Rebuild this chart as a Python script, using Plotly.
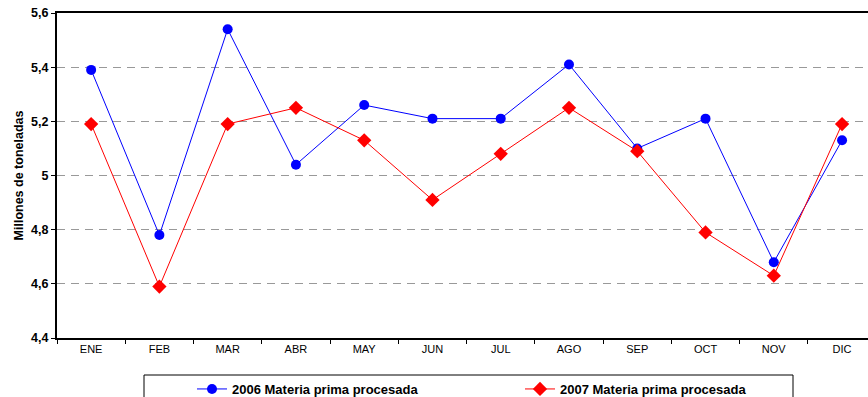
import plotly.graph_objects as go

months = ["ENE", "FEB", "MAR", "ABR", "MAY", "JUN", "JUL", "AGO", "SEP", "OCT", "NOV", "DIC"]
serie_2006 = [5.39, 4.78, 5.54, 5.04, 5.26, 5.21, 5.21, 5.41, 5.10, 5.21, 4.68, 5.13]
serie_2007 = [5.19, 4.59, 5.19, 5.25, 5.13, 4.91, 5.08, 5.25, 5.09, 4.79, 4.63, 5.19]
name_2006 = "2006 Materia prima procesada"
name_2007 = "2007 Materia prima procesada"
y_ticks = [4.4, 4.6, 4.8, 5.0, 5.2, 5.4, 5.6]
y_ticktext = ["4,4", "4,6", "4,8", "5", "5,2", "5,4", "5,6"]

FONT = "Liberation Sans, Arial, sans-serif"
W, H = 868, 397

fig = go.Figure()
fig.add_trace(go.Scatter(
    x=months, y=serie_2006, name=name_2006, mode="lines+markers",
    line=dict(color="#0000FF", width=1),
    marker=dict(symbol="circle", size=10, color="#0000FF"),
))
fig.add_trace(go.Scatter(
    x=months, y=serie_2007, name=name_2007, mode="lines+markers",
    line=dict(color="#FF0000", width=1),
    marker=dict(symbol="diamond", size=11, color="#FF0000"),
))

fig.update_layout(
    width=W, height=H,
    margin=dict(l=57, r=0, t=13, b=59, autoexpand=False),
    paper_bgcolor="white", plot_bgcolor="white",
    font=dict(family=FONT, color="black"),
    showlegend=True,
    legend=dict(
        orientation="h", xref="container", yref="container",
        x=192 / W, y=1 - 374 / H, xanchor="left", yanchor="top",
        font=dict(family=FONT, size=13, color="black", weight="bold"),
        entrywidth=283, entrywidthmode="pixels",
        bgcolor="rgba(0,0,0,0)", borderwidth=0, tracegroupgap=0,
    ),
    xaxis=dict(
        type="category", range=[-0.5, 11.38], automargin=False,
        showline=True, linecolor="black", linewidth=2, mirror=True,
        ticks="outside", ticklen=4, tickcolor="black", tickson="boundaries",
        showgrid=False, zeroline=False,
        tickfont=dict(family=FONT, size=11, color="black"),
    ),
    yaxis=dict(
        range=[4.4, 5.6], tickvals=y_ticks, ticktext=y_ticktext, automargin=False,
        showline=True, linecolor="black", linewidth=2,
        ticks="outside", ticklen=4, tickcolor="black",
        showgrid=True, gridcolor="#999999", griddash="8px,6px", gridwidth=1,
        zeroline=False, ticklabeloverflow="allow",
        tickfont=dict(family=FONT, size=12.5, color="black", weight="bold"),
        title=dict(text="Millones de toneladas", standoff=5,
                   font=dict(family=FONT, size=12.5, color="black", weight="bold")),
    ),
    shapes=[dict(
        type="rect", xref="paper", yref="paper",
        x0=(144 - 57) / 811, x1=(793 - 57) / 811,
        y0=(338 - 375) / 325, y1=(338 - 410) / 325,
        line=dict(color="black", width=1), fillcolor="rgba(0,0,0,0)", layer="below",
    )],
)

fig.write_html(
    "out.html",
    config={"displayModeBar": False},
    post_script="document.body.style.margin='0';document.body.style.overflow='hidden';",
)
